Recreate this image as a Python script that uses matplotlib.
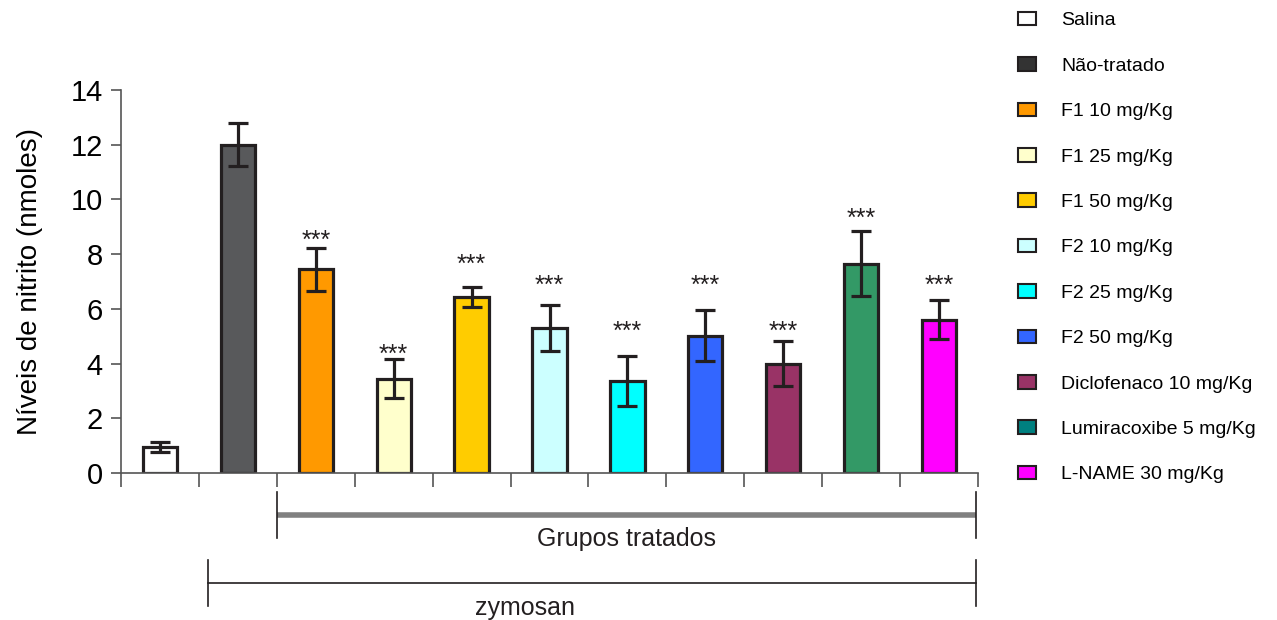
import numpy as np
import matplotlib
matplotlib.use("Agg")
import matplotlib.pyplot as plt
from matplotlib.patches import Patch

plt.rcParams['font.family'] = ['Liberation Sans', 'DejaVu Sans']

# groups, means and SEM
groups = ["Salina", "Não-tratado", "F1 10 mg/Kg", "F1 25 mg/Kg", "F1 50 mg/Kg",
          "F2 10 mg/Kg", "F2 25 mg/Kg", "F2 50 mg/Kg", "Diclofenaco 10 mg/Kg",
          "Lumiracoxibe 5 mg/Kg", "L-NAME 30 mg/Kg"]
means = [0.95, 12.0, 7.45, 3.45, 6.43, 5.3, 3.36, 5.02, 4.0, 7.65, 5.6]
errors = [0.17, 0.78, 0.78, 0.72, 0.38, 0.84, 0.92, 0.94, 0.82, 1.18, 0.72]
# significance marks (group index, height of the mark)
star_idx = [2, 3, 4, 5, 6, 7, 8, 9, 10]
star_y = [8.55, 4.39, 7.68, 6.91, 5.23, 6.91, 5.23, 9.36, 6.91]

bar_colors = ["#ffffff", "#58595b", "#ff9900", "#ffffcc", "#ffcc00", "#ccffff",
              "#00ffff", "#3366ff", "#993366", "#339966", "#ff00ff"]
legend_colors = ["#ffffff", "#333333", "#ff9900", "#ffffcc", "#ffcc00", "#ccffff",
                 "#00ffff", "#3366ff", "#993366", "#008080", "#ff00ff"]

edge = "#231f20"
fig = plt.figure(figsize=(12.77, 6.2), dpi=100)
ax = fig.add_axes([121/1277, 147/620, 857/1277, 383/620])

x = np.arange(len(groups))
ax.bar(x, means, width=0.44, color=bar_colors, edgecolor=edge, linewidth=2.3, zorder=2)
ax.errorbar(x, means, yerr=errors, fmt='none', ecolor=edge, elinewidth=2.3,
            capsize=7.5, capthick=2.3, zorder=3)

for i, sy in zip(star_idx, star_y):
    ax.annotate("***", (i, sy), xytext=(0, -6.5), textcoords='offset points',
                ha='center', va='baseline', fontsize=18, color=edge)

ax.set_xlim(-0.5, len(groups) - 0.5)
ax.set_ylim(0, 14)
ax.set_yticks(np.arange(0, 15, 2))
ax.set_xticks(np.arange(-0.5, len(groups), 1.0))
ax.set_xticklabels([])
ax.tick_params(axis='y', labelsize=21, length=7, width=1.2, color="#555555", pad=6)
ax.tick_params(axis='x', length=10, width=1.2, color="#555555")
for s in ['top', 'right']:
    ax.spines[s].set_visible(False)
for s in ['left', 'bottom']:
    ax.spines[s].set_color("#555555")
    ax.spines[s].set_linewidth(1.2)
ax.set_ylabel("Níveis de nitrito (nmoles)", fontsize=20, labelpad=20)

# brackets under the axis
ax.plot([1.5, 10.48], [-1.54, -1.54], color="#808080", lw=4, clip_on=False, solid_capstyle='butt')
for xb in [1.5, 10.48]:
    ax.plot([xb, xb], [-0.69, -2.38], color=edge, lw=1.2, clip_on=False)
ax.text(5.99, -1.97, "Grupos tratados", ha='center', va='top', fontsize=18, color=edge)

ax.plot([0.62, 10.48], [-4.02, -4.02], color=edge, lw=1.2, clip_on=False)
for xb in [0.62, 10.48]:
    ax.plot([xb, xb], [-3.18, -4.86], color=edge, lw=1.2, clip_on=False)
ax.text(4.68, -4.5, "zymosan", ha='center', va='top', fontsize=18, color=edge)

handles = [Patch(facecolor=c, edgecolor=edge, linewidth=1.5) for c in legend_colors]
fig.legend(handles, groups, loc='upper left', bbox_to_anchor=(1008/1277, 1 - 2/620),
           frameon=False, fontsize=14, handlelength=0.95, handleheight=0.7,
           handletextpad=1.3, labelspacing=1.43, borderpad=0)

fig.savefig("out.png", dpi=100)
